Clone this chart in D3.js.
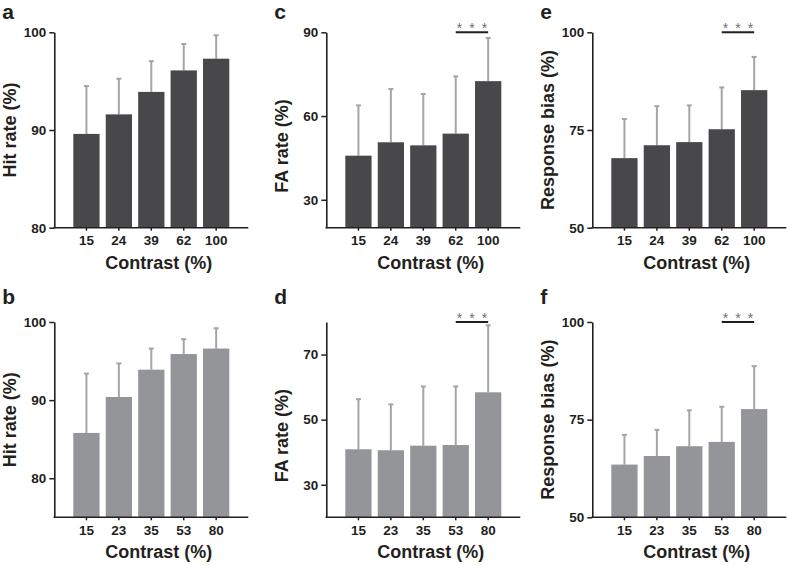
<!DOCTYPE html>
<html>
<head>
<meta charset="utf-8">
<script src="https://cdn.jsdelivr.net/npm/d3@7"></script>
<style>
  html, body { margin: 0; padding: 0; background: #fff; }
  svg { display: block; font-family: "Liberation Sans", Arial, Helvetica, sans-serif; }
</style>
</head>
<body>
<svg id="chart" width="787" height="565"></svg>
<script>
// ---- data ----
const contrastTop = ["15", "24", "39", "62", "100"];
const contrastBottom = ["15", "23", "35", "53", "80"];

const hitRateTop = [89.6, 91.6, 93.9, 96.1, 97.3];
const hitRateTopSD = [4.9, 3.65, 3.15, 2.7, 2.4];
const faRateTop = [45.8, 50.6, 49.5, 53.7, 72.5];
const faRateTopSD = [18.0, 19.1, 18.4, 20.5, 15.5];
const biasTop = [67.8, 71.1, 71.9, 75.2, 85.2];
const biasTopSD = [10.0, 10.0, 9.4, 10.7, 8.5];

const hitRateBottom = [85.8, 90.4, 93.9, 95.9, 96.6];
const hitRateBottomSD = [7.6, 4.3, 2.7, 1.9, 2.6];
const faRateBottom = [40.9, 40.6, 42.0, 42.2, 58.4];
const faRateBottomSD = [15.4, 14.1, 18.2, 18.0, 20.6];
const biasBottom = [63.5, 65.7, 68.2, 69.3, 77.7];
const biasBottomSD = [7.6, 6.7, 9.2, 9.0, 11.0];

const ticksHitTop = [80, 90, 100];
const ticksFATop = [30, 60, 90];
const ticksBiasTop = [50, 75, 100];
const ticksHitBottom = [80, 90, 100];
const ticksFABottom = [30, 50, 70];
const ticksBiasBottom = [50, 75, 100];

const panelLetters = ["a", "c", "e", "b", "d", "f"];
const yTitles = ["Hit rate (%)", "FA rate (%)", "Response bias (%)", "Hit rate (%)", "FA rate (%)", "Response bias (%)"];
const xTitle = "Contrast (%)";
const sigLabel = "*";

// ---- layout / style ----
const colX = [54.3, 326.3, 592.3];
const rowY = [[32.3, 227.7], [322, 517.3]];
const axisLen = 194;
const topColor = "#48484a";
const bottomColor = "#939598";
const errColor = "#a3a5a8";
const axisColor = "#231f20";

const panels = [
  {letter: panelLetters[0], title: yTitles[0], cats: contrastTop, vals: hitRateTop, sd: hitRateTopSD, domain: [80, 100], ticks: ticksHitTop, row: 0, col: 0, color: topColor, sig: false, titleShift: 0},
  {letter: panelLetters[1], title: yTitles[1], cats: contrastTop, vals: faRateTop, sd: faRateTopSD, domain: [20, 90], ticks: ticksFATop, row: 0, col: 1, color: topColor, sig: true, titleShift: 16},
  {letter: panelLetters[2], title: yTitles[2], cats: contrastTop, vals: biasTop, sd: biasTopSD, domain: [50, 100], ticks: ticksBiasTop, row: 0, col: 2, color: topColor, sig: true, titleShift: 0},
  {letter: panelLetters[3], title: yTitles[3], cats: contrastBottom, vals: hitRateBottom, sd: hitRateBottomSD, domain: [75, 100], ticks: ticksHitBottom, row: 1, col: 0, color: bottomColor, sig: false, titleShift: 0},
  {letter: panelLetters[4], title: yTitles[4], cats: contrastBottom, vals: faRateBottom, sd: faRateBottomSD, domain: [20, 80], ticks: ticksFABottom, row: 1, col: 1, color: bottomColor, sig: true, titleShift: 16},
  {letter: panelLetters[5], title: yTitles[5], cats: contrastBottom, vals: biasBottom, sd: biasBottomSD, domain: [50, 100], ticks: ticksBiasBottom, row: 1, col: 2, color: bottomColor, sig: true, titleShift: 0}
];

const svg = d3.select("#chart");

panels.forEach(p => {
  const x0 = colX[p.col];
  const [yTop, yBot] = rowY[p.row];
  const g = svg.append("g");

  const x = d3.scaleBand().domain(p.cats).range([x0 + 19, x0 + 175]).paddingInner(0.19).paddingOuter(0);
  const y = d3.scaleLinear().domain(p.domain).range([yBot, yTop]);

  const data = p.cats.map((c, i) => ({c, v: p.vals[i], sd: p.sd[i]}));

  // error bars (upper only)
  g.selectAll("line.err").data(data).join("line")
    .attr("x1", d => x(d.c) + x.bandwidth() / 2)
    .attr("x2", d => x(d.c) + x.bandwidth() / 2)
    .attr("y1", d => y(d.v))
    .attr("y2", d => y(d.v + d.sd))
    .attr("stroke", errColor).attr("stroke-width", 2);
  g.selectAll("line.cap").data(data).join("line")
    .attr("x1", d => x(d.c) + x.bandwidth() / 2 - 2.5)
    .attr("x2", d => x(d.c) + x.bandwidth() / 2 + 2.5)
    .attr("y1", d => y(d.v + d.sd))
    .attr("y2", d => y(d.v + d.sd))
    .attr("stroke", errColor).attr("stroke-width", 2);

  // bars
  g.selectAll("rect").data(data).join("rect")
    .attr("x", d => x(d.c))
    .attr("width", x.bandwidth())
    .attr("y", d => y(d.v))
    .attr("height", d => y(p.domain[0]) - y(d.v))
    .attr("fill", p.color);

  // y axis
  const ya = g.append("g").attr("transform", `translate(${x0},0)`)
    .call(d3.axisLeft(y).tickValues(p.ticks).tickSize(5).tickPadding(3).tickSizeOuter(0));
  ya.select(".domain").attr("stroke", axisColor).attr("stroke-width", 1.6);
  ya.selectAll(".tick line").attr("stroke", axisColor).attr("stroke-width", 1.5);
  ya.selectAll(".tick text").attr("fill", "#231f20")
    .style("font-size", "13.5px").style("font-weight", "bold")
    .style("font-family", "'Liberation Sans', Arial, sans-serif");

  // x axis
  const xa = g.append("g").attr("transform", `translate(0,${yBot})`)
    .call(d3.axisBottom(x).tickSize(3).tickPadding(5).tickSizeOuter(0));
  xa.select(".domain").remove();
  xa.selectAll(".tick line").attr("stroke", axisColor).attr("stroke-width", 1.5);
  xa.selectAll(".tick text").attr("fill", "#231f20")
    .style("font-size", "13.5px").style("font-weight", "bold")
    .style("font-family", "'Liberation Sans', Arial, sans-serif");
  g.append("line")
    .attr("x1", x0 - 0.8).attr("x2", x0 + axisLen)
    .attr("y1", yBot).attr("y2", yBot)
    .attr("stroke", axisColor).attr("stroke-width", 1.6);

  // x title
  g.append("text")
    .attr("x", x0 + 104.5).attr("y", yBot + 41)
    .attr("text-anchor", "middle")
    .attr("fill", "#231f20")
    .style("font-size", "18px").style("font-weight", "bold")
    .text(xTitle);

  // y title
  const cy = (yTop + yBot) / 2 + p.titleShift;
  g.append("text")
    .attr("transform", `translate(${x0 - 38.5},${cy}) rotate(-90)`)
    .attr("text-anchor", "middle")
    .attr("fill", "#231f20")
    .style("font-size", "18px").style("font-weight", "bold")
    .text(p.title);

  // panel letter
  g.append("text")
    .attr("x", x0 - 52).attr("y", p.row === 0 ? 18.5 : 303.5)
    .attr("fill", "#231f20")
    .style("font-size", "21px").style("font-weight", "bold")
    .text(p.letter);

  // significance bracket between last two bars
  if (p.sig) {
    const xa4 = x(p.cats[3]) + x.bandwidth() / 2;
    const xa5 = x(p.cats[4]) + x.bandwidth() / 2;
    const ly = y(p.domain[1]);
    g.append("line")
      .attr("x1", xa4).attr("x2", xa5)
      .attr("y1", ly).attr("y2", ly)
      .attr("stroke", "#231f20").attr("stroke-width", 2);
    const mid = (xa4 + xa5) / 2;
    [-12.5, 0, 12.5].forEach(dx => {
      g.append("text")
        .attr("x", mid + dx).attr("y", ly + 0.5)
        .attr("text-anchor", "middle")
        .attr("fill", "#6d6e71")
        .style("font-size", "14px")
        .text(sigLabel);
    });
  }
});
</script>
</body>
</html>
